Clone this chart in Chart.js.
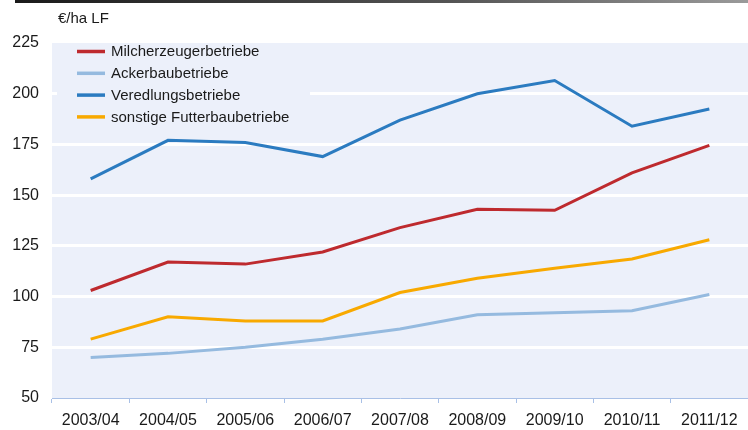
<!DOCTYPE html>
<html><head><meta charset="utf-8">
<script src="https://cdn.jsdelivr.net/npm/chart.js@4"></script>
<style>
html,body{margin:0;padding:0;background:#fff;}
#wrap{position:relative;width:748px;height:430px;}
#topline{position:absolute;left:15px;top:0;width:733px;height:3px;background:linear-gradient(to right,#1a1a1a,#555 60%,#9a9a9a);}
canvas{position:absolute;left:0;top:0;}
</style></head><body>
<div id="wrap"><div id="topline"></div><canvas id="c" width="748" height="430"></canvas></div>
<script>
const categories = ["2003/04","2004/05","2005/06","2006/07","2007/08","2008/09","2009/10","2010/11","2011/12"];
const milch = [103,117,116,122,134,143,142.5,161,174.5];
const acker = [70,72,75,79,84,91,92,93,101];
const veredlung = [158,177,176,169,187,200,206.5,184,192.5];
const futter = [79,90,88,88,102,109,114,118.5,128];
const yTicks = [50,75,100,125,150,175,200,225];
const unitLabel = "€/ha LF";

const FONT = "'Liberation Sans', Arial, sans-serif";
const BG = '#ECF0FA';

const bgPlugin = {
  id:'bg',
  beforeDraw(chart){
    const {ctx, chartArea:a} = chart;
    ctx.save(); ctx.fillStyle = BG; ctx.fillRect(a.left, a.top, a.right-a.left, a.bottom-a.top); ctx.restore();
  },
  beforeDatasetsDraw(chart){
    const {ctx, chartArea:a} = chart;
    ctx.save();
    ctx.fillStyle = BG;
    ctx.fillRect(57, a.top, 253, 84);
    ctx.font = "15px " + FONT;
    ctx.textBaseline = 'middle';
    ctx.fillStyle = '#1a1a1a';
    chart.data.datasets.forEach((ds,i)=>{
      const y = 51.5 + i*21.8;
      ctx.strokeStyle = ds.borderColor; ctx.lineWidth = 3.5;
      ctx.beginPath(); ctx.moveTo(77,y); ctx.lineTo(105,y); ctx.stroke();
      ctx.fillText(ds.label, 111, y+0.5);
    });
    ctx.restore();
  },
  afterDraw(chart){
    const ctx = chart.ctx;
    ctx.save();
    ctx.font = "15px " + FONT; ctx.fillStyle = '#1a1a1a'; ctx.textBaseline='middle';
    ctx.fillText(unitLabel, 58, 18.5);
    ctx.restore();
  }
};

new Chart(document.getElementById('c'), {
  type:'line',
  data:{
    labels: categories,
    datasets:[
      {label:'Milcherzeugerbetriebe', data:milch, borderColor:'#BE2A2E'},
      {label:'Ackerbaubetriebe', data:acker, borderColor:'#95BADF'},
      {label:'Veredlungsbetriebe', data:veredlung, borderColor:'#2B7BC0'},
      {label:'sonstige Futterbaubetriebe', data:futter, borderColor:'#F8A900'}
    ].map(d=>Object.assign(d,{borderWidth:3, pointRadius:0, tension:0, fill:false}))
  },
  options:{
    responsive:false, animation:false,
    layout:{padding:{top:43,right:0,left:0,bottom:0}},
    plugins:{legend:{display:false}, tooltip:{enabled:false}},
    scales:{
      x:{
        offset:true,
        grid:{display:true, drawOnChartArea:false, drawTicks:true, tickLength:5, color:'#A9C0E6', lineWidth:1, offset:true},
        border:{display:true, color:'#A9C0E6', width:1},
        ticks:{color:'#1a1a1a', font:{family:FONT, size:16}, padding:8, maxRotation:0, autoSkip:false},
        afterFit(s){ s.height = 32; }
      },
      y:{
        min:50, max:225,
        afterBuildTicks(s){ s.ticks = yTicks.map(v=>({value:v})); },
        grid:{drawTicks:false, lineWidth:3, color:c=> (c.tick && (c.tick.value===50 || c.tick.value===225)) ? 'rgba(0,0,0,0)' : '#FFFFFF'},
        border:{display:false},
        ticks:{color:'#1a1a1a', font:{family:FONT, size:16}, padding:13},
        afterFit(s){ s.width = 52; }
      }
    }
  },
  plugins:[bgPlugin]
});
</script>
</body></html>
